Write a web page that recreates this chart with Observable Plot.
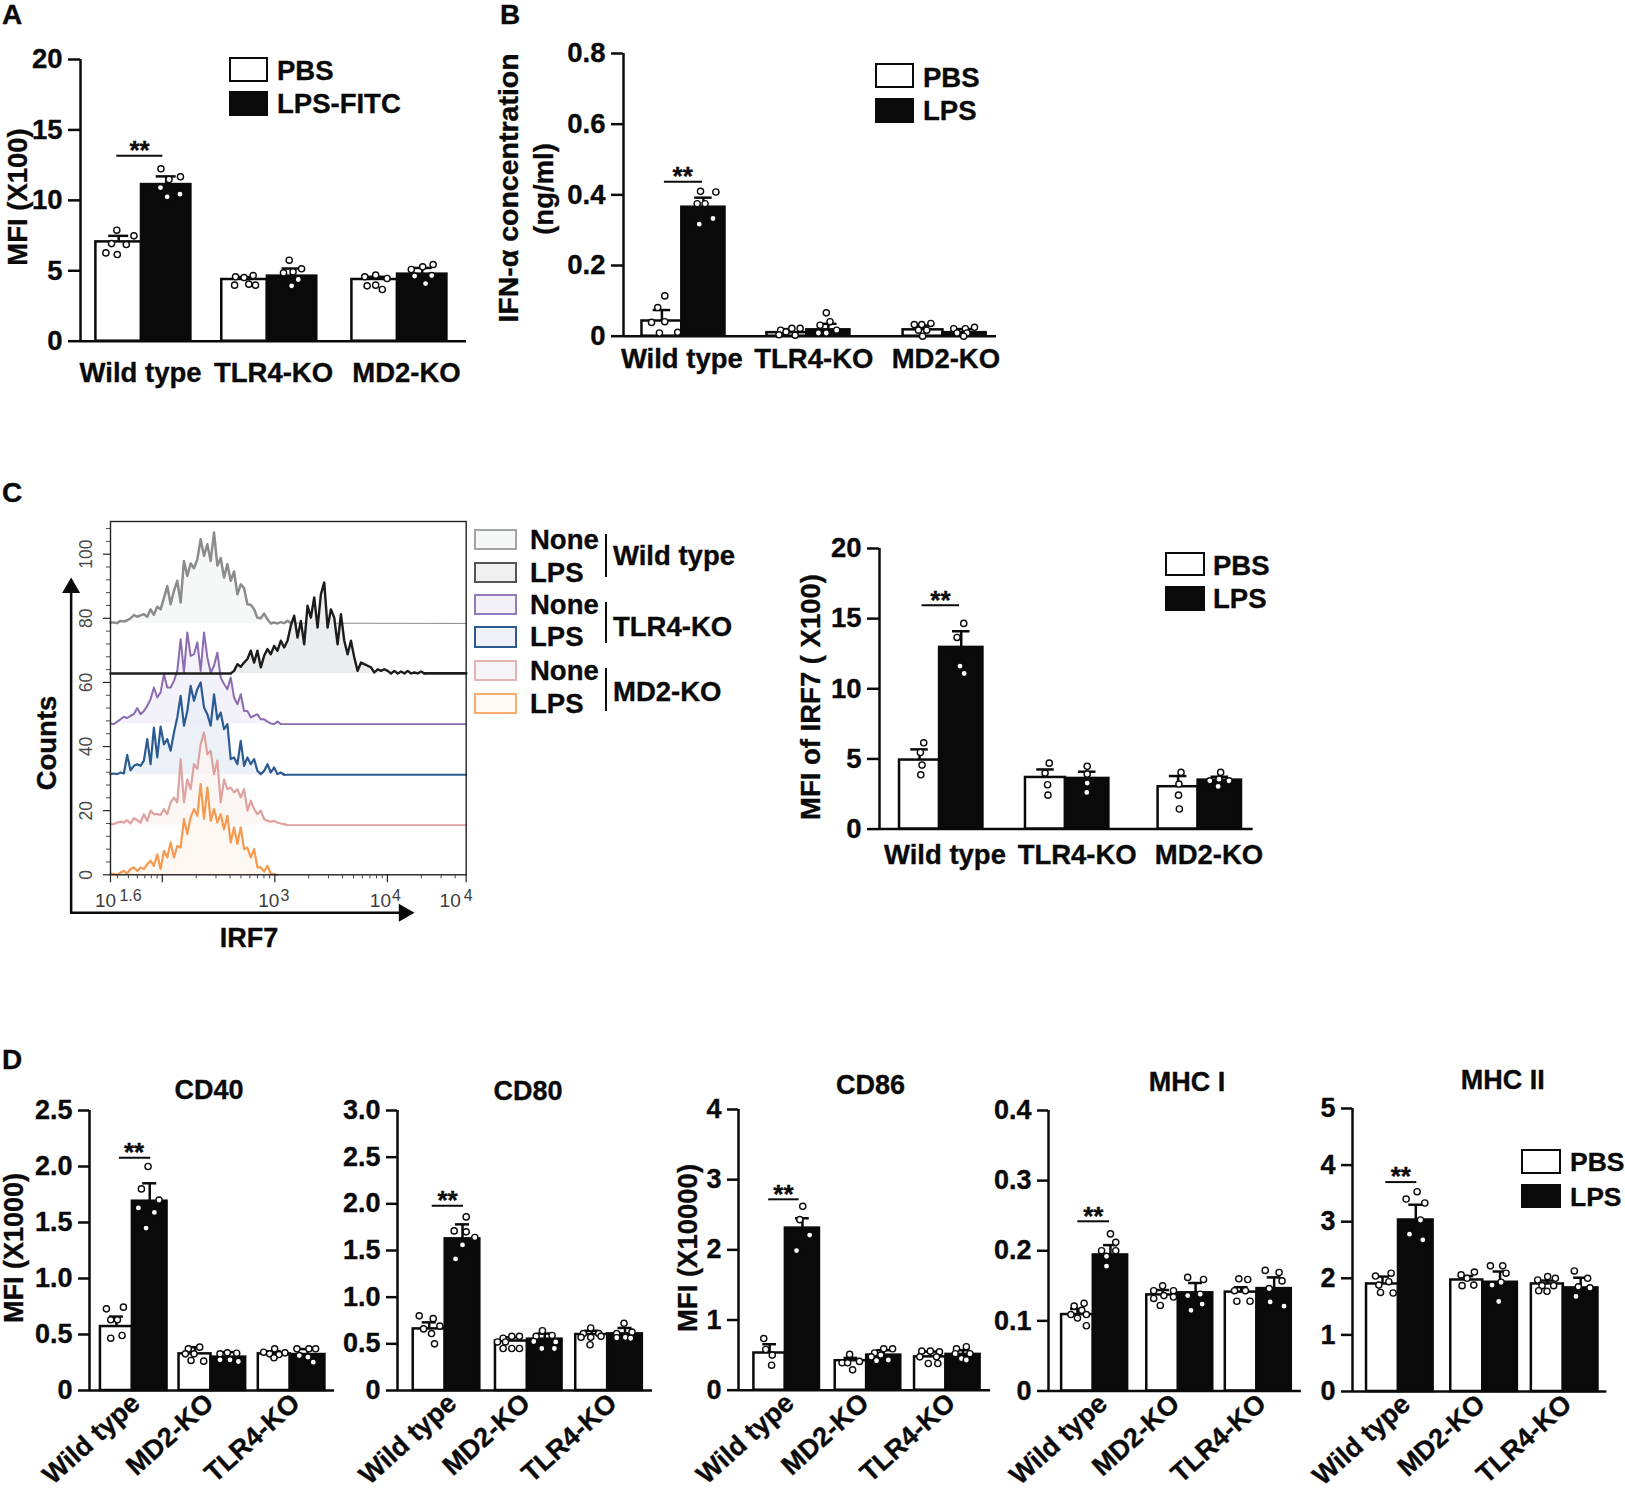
<!DOCTYPE html>
<html>
<head>
<meta charset="utf-8">
<script src="https://cdn.jsdelivr.net/npm/d3@7"></script>
<script src="https://cdn.jsdelivr.net/npm/@observablehq/plot@0.6"></script>
<style>
  body { margin: 0; background: white; }
  #fig { position: relative; width: 1625px; height: 1489px; overflow: hidden; font-family: "Liberation Sans", Arial, sans-serif; color: #0a0a0a; }
  #fig svg { position: absolute; overflow: visible; }
  #fig svg [font-weight="bold"] { stroke: #0a0a0a; stroke-width: .35px; }
  #fig .t { position: absolute; white-space: nowrap; line-height: 1; font-weight: bold; -webkit-text-stroke: .35px #0a0a0a; }
  #fig .s { position: absolute; box-sizing: border-box; }
</style>
</head>
<body>
<div id="fig"></div>
<script>
const groupsABC = ["Wild type", "TLR4-KO", "MD2-KO"]
const groupsD = ["Wild type", "MD2-KO", "TLR4-KO"]

// panel A, MFI (X100)
const aPbs = [7.05, 4.38, 4.38]
const aLps = [11.12, 4.62, 4.76]
const aPbsErr = [7.48, 4.55, 4.57]
const aLpsErr = [11.7, 5.16, 5.2]
const aDots = [
  [7.88, 7.48, 6.93, 6.86, 6.27, 6.15],
  [12.24, 11.67, 11.48, 10.91, 10.25, 10.44],
  [4.57, 4.52, 4.66, 3.98, 4.05, 3.98],
  [5.75, 5.14, 4.85, 4.92, 4.38, 3.93],
  [4.57, 4.69, 4.45, 3.93, 3.98, 3.67],
  [5.44, 5.09, 5.28, 4.62, 4.66, 4.09]
]
const aJitter = [
  [-.04, .32, -.15, .16, -.27, -.03],
  [-.11, .3, .06, -.12, .02, .29],
  [-.19, -.01, .18, -.21, .09, .23],
  [-.06, .2, -.18, .02, .13, -.01],
  [-.21, .02, .26, -.16, .02, .16],
  [.23, -.23, .01, -.16, .2, .07]
]

// panel B, IFN-alpha ng/ml
const bPbs = [.043, .01, .018]
const bLps = [.365, .018, .01]
const bPbsErr = [.074, .02, .03]
const bLpsErr = [.392, .035, .02]
const bDots = [
  [.114, .081, .039, .041, .009, .011],
  [.41, .408, .375, .375, .333, .317],
  [.017, .022, .022, .004, .012, .003],
  [.066, .041, .031, .017, .009, .009],
  [.033, .033, .036, .017, .017, 0],
  [.021, .021, .025, .009, .009, 0]
]
const bJitter = [
  [.07, -.1, -.25, .07, -.06, .38],
  [-.07, .3, -.15, .04, .23, -.1],
  [-.15, .12, .32, -.19, -.02, .2],
  [-.05, .04, -.2, .2, -.24, -.05],
  [-.21, -.03, .19, -.11, .09, -.01],
  [-.26, .02, .24, -.18, .06, -.02]
]

// panel C right, MFI of IRF7
const cPbs = [4.92, 3.68, 3.02]
const cLps = [12.95, 3.61, 3.49]
const cPbsErr = [5.68, 4.25, 3.78]
const cLpsErr = [14.1, 4.09, 3.73]
const cDots = [
  [6.15, 5.46, 4.56, 3.87],
  [14.66, 13.66, 11.62, 11.09],
  [4.7, 3.99, 3.16, 2.42],
  [4.47, 3.92, 3.28, 2.61],
  [4.04, 3.21, 2.42, 1.43],
  [4.04, 3.44, 3.56, 3.44, 3.04]
]
const cJitter = [
  [.1, .02, .06, .03],
  [.06, -.1, -.03, .07],
  [.09, -.01, .05, .06],
  [0, 0, 0, -.01],
  [.07, .02, .01, .03],
  [.02, -.24, -.02, .22, -.04]
]

// panel D
const cd40Pbs = [.571, .327, .327]
const cd40Lps = [1.69, .298, .321]
const cd40PbsErr = [.66, .387, .35]
const cd40LpsErr = [1.85, .342, .37]
const cd40Dots = [
  [.729, .744, .631, .631, .467, .491],
  [2.0, 1.8, 1.7, 1.63, 1.59, 1.45],
  [.372, .387, .327, .327, .268, .262],
  [.327, .336, .333, .274, .274, .259],
  [.342, .372, .336, .327, .321, .292],
  [.372, .372, .372, .312, .298, .253]
]
const cd40Jitter = [
  [-.3, .21, -.17, .03, -.17, .17],
  [-.05, -.25, .28, -.34, .14, -.11],
  [-.2, .14, -.29, -.03, -.12, .26],
  [-.25, -.03, .25, -.25, .05, .3],
  [-.32, .01, .32, -.14, .14, -.01],
  [-.32, .04, .24, -.25, .01, .17]
]

const cd80Pbs = [.66, .53, .6]
const cd80Lps = [1.625, .55, .607]
const cd80PbsErr = [.73, .57, .64]
const cd80LpsErr = [1.78, .61, .67]
const cd80Dots = [
  [.8, .77, .66, .69, .61, .5],
  [1.86, 1.71, 1.7, 1.64, 1.56, 1.41],
  [.56, .58, .58, .52, .52, .45, .45, .45],
  [.64, .58, .59, .525, .52, .45, .45],
  [.67, .61, .61, .57, .57, .58, .49],
  [.72, .61, .625, .565, .57, .56]
]
const cd80Jitter = [
  [-.3, .12, -.17, .32, .07, .16],
  [.11, -.25, .11, .37, 0, -.21],
  [-.25, .01, .24, -.42, -.18, .01, -.25, .24],
  [-.07, -.26, .22, -.33, .33, -.09, .29],
  [-.03, -.25, .21, -.32, -.03, .28, -.05],
  [-.03, -.25, .21, -.25, .01, .17]
]

const cd86Pbs = [.53, .42, .475]
const cd86Lps = [2.31, .5, .51]
const cd86PbsErr = [.655, .46, .55]
const cd86LpsErr = [2.45, .57, .57]
const cd86Dots = [
  [.736, .58, .5, .356],
  [2.62, 2.43, 2.21, 1.99],
  [.51, .39, .41, .39, .29],
  [.59, .53, .59, .475, .5, .42, .43],
  [.556, .556, .546, .475, .475, .38, .38],
  [.59, .62, .52, .52, .45, .43]
]
const cd86Jitter = [
  [-.18, -.12, .08, .06],
  [.01, -.08, .22, -.18],
  [-.04, -.27, .26, -.1, .05],
  [0, -.28, .27, -.38, -.09, -.22, .14],
  [-.26, 0, .28, -.32, .19, -.06, .23],
  [-.2, .1, -.24, .21, -.05, .1]
]

const mhc1Pbs = [.109, .137, .141]
const mhc1Lps = [.194, .14, .146]
const mhc1PbsErr = [.117, .144, .148]
const mhc1LpsErr = [.208, .154, .162]
const mhc1Dots = [
  [.125, .121, .115, .109, .109, .104, .093],
  [.224, .212, .2, .2, .192, .178],
  [.15, .143, .143, .136, .132, .134, .122],
  [.162, .159, .136, .138, .124, .115],
  [.16, .159, .143, .143, .128, .128],
  [.172, .169, .146, .157, .127, .121]
]
const mhc1Jitter = [
  [.2, -.1, .13, -.2, .27, 0, .27],
  [0, .16, -.27, .16, -.12, -.12],
  [0, -.27, .33, .04, -.27, .33, -.07],
  [-.24, .24, -.24, .14, .2, -.14],
  [-.07, .2, -.2, .13, -.13, .27],
  [-.27, .15, -.15, .24, -.12, .3]
]

const mhc2Pbs = [1.9, 1.97, 1.9]
const mhc2Lps = [3.03, 1.93, 1.83]
const mhc2PbsErr = [2.03, 2.04, 1.96]
const mhc2LpsErr = [3.3, 2.12, 2.01]
const mhc2Dots = [
  [2.04, 2.09, 1.94, 1.88, 1.75, 1.74],
  [3.53, 3.4, 3.33, 3.03, 2.78, 2.68],
  [2.11, 2.06, 2.0, 1.87, 1.88],
  [2.22, 2.22, 2.09, 1.88, 1.93, 1.59],
  [2.03, 2.0, 1.97, 1.87, 1.87, 1.78, 1.77],
  [2.13, 2.0, 1.85, 1.83, 1.68]
]
const mhc2Jitter = [
  [-.21, .26, .19, -.11, -.06, .32],
  [.04, -.29, .27, .14, -.19, .21],
  [.23, -.17, .01, -.14, .21],
  [-.29, .08, .18, -.24, .03, -.04],
  [.01, .24, -.29, -.16, .19, -.26, -.01],
  [-.19, .21, -.07, .28, -.14]
]

// panel C histogram, counts read per bin (offset overlay)
const histFrom = 1.54, histStep = 0.02967
const histGrey = [78.7,78.7,78.5,79.2,79.0,79.4,80.0,81.0,80.5,80.9,81.3,80.5,82.8,81.1,83.6,82.8,86.3,90.1,84.4,88.6,91.7,84.9,97.9,93.2,97.1,95.6,98.4,104.7,99.5,103.1,97.9,106.8,96.4,98.8,92.7,96.9,91.7,94.6,87.5,90.6,89.4,84.4,84.2,82.8,80.2,80.0,81.5,79.7,78.4,78.7,78.4,78.8,78.5,79.2,78.5]
const histBlack = [63.6,65.7,64.9,66.2,67.3,69.9,66.2,69.9,64.7,68.3,70.4,68.8,71.4,69.9,73.0,70.9,73.0,77.7,80.8,74.0,79.2,71.9,83.9,80.2,86.5,77.1,87.5,91.2,77.1,82.8,80.2,71.9,81.3,73.0,68.8,73.0,67.8,63.6,66.2,65.7,65.2,64.7,63.1,64.1,63.6,64.1,63.6,62.8,63.6,62.8,63.4,62.8,63.6,62.8,63.1,62.8,63.4,62.8]
const histPurple = [47.2,47.0,47.8,48.5,49.3,48.9,49.6,50.1,52.0,50.1,51.1,52.7,54.8,58.4,55.3,56.9,62.6,58.4,58.4,60.5,63.6,73.5,63.1,75.6,68.3,68.8,72.5,63.6,75.6,67.8,63.1,65.2,69.3,61.5,59.5,57.9,61.5,55.3,53.2,56.3,51.1,51.1,49.1,49.6,50.1,48.5,48.5,47.8,47.2,47.0,47.8,47.0]
const histBlue = [31.4,31.6,31.4,31.9,31.6,37.4,32.6,34.0,34.5,34.0,35.6,42.3,34.5,45.9,36.6,46.2,40.7,42.3,38.7,44.4,49.1,55.8,46.5,51.1,58.9,54.3,57.9,60.0,52.2,50.1,46.5,56.3,48.5,50.6,45.4,47.0,36.1,36.6,34.5,41.8,34.0,36.6,34.5,36.1,32.4,31.4,32.4,34.5,31.9,33.5,31.4,31.9,31.2]
const histPink = [15.8,15.8,16.3,16.6,16.3,17.0,16.0,17.7,17.0,16.3,18.9,16.8,20.0,18.9,18.9,18.7,20.5,18.9,22.6,24.1,22.6,36.1,22.6,29.8,26.7,34.5,33.0,40.7,44.4,37.6,38.7,31.4,35.6,22.6,29.8,26.7,27.2,25.7,26.7,24.1,26.7,20.0,23.1,20.5,18.9,20.0,17.4,16.8,16.6,16.8,16.3,16.0,15.8,15.5]
const histOrange = [0.4,0.2,0,0.7,1.2,0.4,1.8,2.3,1.2,2.3,1.8,3.3,4.4,2.8,6.4,1.8,7.5,5.4,10.1,5.4,9.0,8.5,17.4,12.7,17.9,20.5,18.4,28.3,17.4,27.3,16.8,20.5,16.3,18.9,14.2,18.4,10.1,14.8,9.6,14.8,8.0,8.5,5.4,8.0,2.3,2.3,1.0,2.8,0.4,0.2,0]
const histYTicks = [0, 20, 40, 60, 80, 100]
const histYMinor = [4,8,12,16,24,28,32,36,44,48,52,56,64,68,72,76,84,88,92,96,104,108]
const histXMajor = [10 ** 1.54, 100, 1000, 10000, 10 ** 4.7]
const histXMinor = [40,50,60,70,80,90,200,300,400,500,600,700,800,900,2000,3000,4000,5000,6000,7000,8000,9000,20000,30000,40000]
const legendC = ["None", "LPS", "None", "LPS", "None", "LPS"]
const legendCGroups = ["Wild type", "TLR4-KO", "MD2-KO"]

const fig = document.getElementById("fig")

function put(text, x, cy, size = 27.5, center = false) {
  const el = document.createElement("div")
  el.className = "t"
  el.textContent = text
  el.style.left = x + "px"
  el.style.top = (cy - .49 * size) + "px"
  el.style.fontSize = size + "px"
  if (center) el.style.transform = "translateX(-50%)"
  fig.append(el)
}

function putY(text, baseX, cy, size = 27.5) {
  const el = document.createElement("div")
  el.className = "t"
  el.textContent = text
  el.style.left = baseX + "px"
  el.style.top = cy + "px"
  el.style.fontSize = size + "px"
  el.style.transformOrigin = "0 0"
  el.style.transform = "rotate(-90deg) translate(-50%, -.85em)"
  fig.append(el)
}

function box(x0, y0, x1, y1, border, fill, bw = 2.5) {
  const el = document.createElement("div")
  el.className = "s"
  el.style.cssText += `left:${x0}px;top:${y0}px;width:${x1 - x0}px;height:${y1 - y0}px;border:${bw}px solid ${border};background:${fill}`
  fig.append(el)
}

function legendPair(x0, x1, y0, y1, y2, y3, textX, c1, c2, names, size = 27.5) {
  box(x0, y0, x1, y1, "#0a0a0a", "white")
  box(x0, y2, x1, y3, "#0a0a0a", "#0a0a0a")
  put(names[0], textX, c1, size)
  put(names[1], textX, c2, size)
}

function barPanel(o) {
  const rows = []
  o.groups.forEach((g, i) => {
    rows.push({x1: o.at[i] - .96, x2: o.at[i], c: o.at[i] - .48, v: o.pbs[i], err: o.pbsErr[i], dots: o.dots[i * 2], jit: o.jitter[i * 2], fill: "white"})
    rows.push({x1: o.at[i], x2: o.at[i] + 1.04, c: o.at[i] + .52, v: o.lps[i], err: o.lpsErr[i], dots: o.dots[i * 2 + 1], jit: o.jitter[i * 2 + 1], fill: "#0a0a0a"})
  })
  const dots = rows.flatMap(r => r.dots.map((v, j) => ({x: r.c + r.jit[j], y: v})))
  const labels = o.groups.map((g, i) => ({g, x: o.at[i] + o.labelShift[i]}))
  const marginLeft = 70, marginTop = 15
  const plot = Plot.plot({
    width: o.axisEnd - o.axisX + marginLeft,
    height: o.zero - o.top + marginTop + 50,
    marginLeft, marginTop, marginRight: 0, marginBottom: 50,
    style: {fontFamily: "Liberation Sans", background: "transparent", color: "#0a0a0a"},
    x: {domain: o.xDomain, axis: null},
    y: {domain: [0, o.ticks[o.ticks.length - 1]], axis: null},
    marks: [
      Plot.rectY(rows, {x1: "x1", x2: "x2", y: "v", fill: "fill", stroke: "#0a0a0a", strokeWidth: 2.5}),
      Plot.ruleX([o.xDomain[0]], {y1: 0, y2: o.ticks[o.ticks.length - 1], strokeWidth: 2.5, stroke: "#0a0a0a"}),
      Plot.axisY({
        ticks: o.ticks, tickSize: o.tick, tickPadding: 6, fontSize: o.font, fontWeight: "bold", strokeWidth: 2.5,
        label: null, tickFormat: d => o.tickLabels[o.ticks.indexOf(d)]
      }),
      Plot.ruleY([0], {strokeWidth: 2.5, stroke: "#0a0a0a"}),
      Plot.ruleX(rows, {x: "c", y1: "v", y2: "err", strokeWidth: 2.5, stroke: "#0a0a0a"}),
      Plot.ruleY(rows, {y: "err", x1: d => d.c - .21, x2: d => d.c + .21, strokeWidth: 2.5, stroke: "#0a0a0a"}),
      Plot.dot(dots, {x: "x", y: "y", r: 3.1, fill: "white", stroke: "#0a0a0a", strokeWidth: 1.4}),
      Plot.ruleY([o.sig.y], {x1: o.at[0] + o.sig.x1, x2: o.at[0] + o.sig.x2, strokeWidth: 2, stroke: "#0a0a0a"}),
      Plot.text(["**"], {x: o.at[0] + o.sig.star, y: o.sig.y, fontSize: 26, dy: -5, lineAnchor: "middle", fill: "#0a0a0a", fontWeight: "bold"}),
      o.rotateLabels
        ? Plot.text(labels, {x: "x", y: 0, text: "g", rotate: -42, textAnchor: "end", lineAnchor: "bottom", dy: o.labelDy, fontSize: o.labelFont, fontWeight: "bold", fill: "#0a0a0a"})
        : Plot.text(labels, {x: "x", y: 0, text: "g", lineAnchor: "bottom", dy: o.labelDy, fontSize: o.labelFont, fontWeight: "bold", fill: "#0a0a0a"})
    ]
  })
  plot.style.left = (o.axisX - marginLeft) + "px"
  plot.style.top = (o.top - marginTop) + "px"
  fig.append(plot)
}

// histogram
function histSeries(values, start, baseline, color, width, fill, tailWidth) {
  const x = i => 10 ** (histFrom + i * histStep)
  let rows = values.map((v, i) => ({x: x(start + i), y: v}))
  if (start > 0) rows = [{x: 10 ** histFrom, y: baseline}, {x: x(start - 1), y: baseline}, ...rows]
  const out = [
    Plot.areaY(rows, {x: "x", y1: () => baseline, y2: "y", fill, fillOpacity: .85}),
    Plot.line(rows, {x: "x", y: "y", stroke: color, strokeWidth: width})
  ]
  if (tailWidth) out.push(Plot.line([rows[rows.length - 1], {x: 10 ** 4.7, y: baseline}], {x: "x", y: "y", stroke: color, strokeWidth: tailWidth}))
  return out
}

function histPanel() {
  const marginLeft = 90, marginTop = 20
  const textCol = "#3d3d3d"
  const xLabels = [[10 ** 1.54, "1.6", -5, 20], [1000, "3", -6, 10], [10000, "4", -7, 9], [10 ** 4.7, "4", -16, 2]]
  const plot = Plot.plot({
    width: 465.7 - 110 + marginLeft,
    height: 353.3 + marginTop + 90,
    marginLeft, marginTop, marginRight: 0, marginBottom: 90,
    style: {fontFamily: "Liberation Sans", background: "transparent"},
    x: {type: "log", domain: [10 ** 1.54, 10 ** 4.7], axis: null},
    y: {domain: [0, 110.2], axis: null},
    marks: [
      ...histSeries(histGrey, 0, 78.4, "#8c8c8c", 2.5, "#f5f7f6", 1),
      ...histSeries(histPurple, 0, 47, "#8c6bb1", 2, "#f1eff8", 1.8),
      ...histSeries(histBlack, 37, 62.8, "#1c1c1c", 2.4, "#e9eaeb", 2.8),
      ...histSeries(histBlue, 0, 31.2, "#2b5b92", 2.2, "#e9eff7", 2),
      ...histSeries(histPink, 0, 15.5, "#dea3a0", 2.2, "#fbf4f2", 1.8),
      ...histSeries(histOrange, 0, 0, "#f59a50", 2.2, "#fef7f0", 0),
      Plot.frame({stroke: "#222", strokeWidth: 1.4}),
      Plot.axisY({ticks: histYTicks, tickSize: 7, tickFormat: () => "", label: null, strokeWidth: 1.2, stroke: "#222"}),
      Plot.axisY({ticks: histYMinor, tickSize: 4, tickFormat: () => "", label: null, strokeWidth: 1, stroke: "#444"}),
      Plot.axisX({ticks: histXMajor, tickSize: 8, tickFormat: () => "", label: null, strokeWidth: 1.2, stroke: "#222"}),
      Plot.axisX({ticks: histXMinor, tickSize: 4, tickFormat: () => "", label: null, strokeWidth: 1, stroke: "#444"}),
      Plot.text(histYTicks, {x: 10 ** 1.54, y: d => d, text: d => String(d), rotate: -90, dx: -24, fontSize: 17.5, fill: "#4a4a4a", lineAnchor: "middle"}),
      ...xLabels.flatMap(([v, exp, dx, dxe]) => [
        Plot.text(["10"], {x: v, y: 0, dx, dy: 26, fontSize: 19, fill: textCol, lineAnchor: "middle"}),
        Plot.text([exp], {x: v, y: 0, dx: dxe, dy: 21, fontSize: 16, fill: textCol, lineAnchor: "middle"})
      ]),
      // big axis arrows drawn outside the frame
      Plot.line([[15.5, -11.85], [15.5, 89.5]], {x: d => d[0], y: d => d[1], stroke: "#0a0a0a", strokeWidth: 2.5}),
      Plot.line([[15.5, -11.85], [14060, -11.85]], {x: d => d[0], y: d => d[1], stroke: "#0a0a0a", strokeWidth: 2.5}),
      Plot.dot([[15.5, 89.5]], {x: d => d[0], y: d => d[1], symbol: "triangle", r: 6.7, fill: "#0a0a0a", stroke: "none"}),
      Plot.dot([[14060, -11.85]], {x: d => d[0], y: d => d[1], symbol: "triangle", r: 6.7, rotate: 90, fill: "#0a0a0a", stroke: "none"})
    ]
  })
  plot.style.left = (110 - marginLeft) + "px"
  plot.style.top = (520.7 - marginTop) + "px"
  fig.append(plot)
}

// top row and IRF7 bars
barPanel({
  groups: groupsABC, pbs: aPbs, lps: aLps, pbsErr: aPbsErr, lpsErr: aLpsErr, dots: aDots, jitter: aJitter,
  axisX: 80, axisEnd: 466, top: 59.3, zero: 341, tick: 12, font: 27.5, labelFont: 27.5, labelDy: 41,
  xDomain: [-1.284, 6.842], at: [0, 2.65, 5.39], labelShift: [-.02, .13, .19],
  ticks: [0, 5, 10, 15, 20], tickLabels: ["0", "5", "10", "15", "20"],
  sig: {y: 13.16, x1: -.52, x2: .45, star: -.04}
})
barPanel({
  groups: groupsABC, pbs: bPbs, lps: bLps, pbsErr: bPbsErr, lpsErr: bLpsErr, dots: bDots, jitter: bJitter,
  axisX: 622.7, axisEnd: 995.7, top: 53.3, zero: 336, tick: 12, font: 27.5, labelFont: 27.5, labelDy: 32,
  xDomain: [-1.405, 7.58], at: [0, 3.01, 6.29], labelShift: [0, .17, .07],
  ticks: [0, .2, .4, .6, .8], tickLabels: ["0", "0.2", "0.4", "0.6", "0.8"],
  sig: {y: .437, x1: -.42, x2: .5, star: .02}
})
histPanel()
barPanel({
  groups: groupsABC, pbs: cPbs, lps: cLps, pbsErr: cPbsErr, lpsErr: cLpsErr, dots: cDots, jitter: cJitter,
  axisX: 879, axisEnd: 1252.7, top: 547.7, zero: 828.3, tick: 12, font: 27.5, labelFont: 27.5, labelDy: 35,
  xDomain: [-1.44, 7.52], at: [0, 3.02, 6.2], labelShift: [.13, .28, .26],
  ticks: [0, 5, 10, 15, 20], tickLabels: ["0", "5", "10", "15", "20"],
  sig: {y: 15.96, x1: -.42, x2: .48, star: .02}
})

// row D
barPanel({
  groups: groupsD, pbs: cd40Pbs, lps: cd40Lps, pbsErr: cd40PbsErr, lpsErr: cd40LpsErr, dots: cd40Dots, jitter: cd40Jitter,
  axisX: 88.9, axisEnd: 334, top: 1110, zero: 1390, tick: 11, font: 27, labelFont: 27, labelDy: 15, rotateLabels: true,
  xDomain: [-1.288, 6.07], at: [0, 2.36, 4.74], labelShift: [.28, .13, .34],
  ticks: [0, .5, 1, 1.5, 2, 2.5], tickLabels: ["0", "0.5", "1.0", "1.5", "2.0", "2.5"],
  sig: {y: 2.077, x1: -.39, x2: .55, star: .05}
})
barPanel({
  groups: groupsD, pbs: cd80Pbs, lps: cd80Lps, pbsErr: cd80PbsErr, lpsErr: cd80LpsErr, dots: cd80Dots, jitter: cd80Jitter,
  axisX: 396.8, axisEnd: 651.8, top: 1110, zero: 1390, tick: 11, font: 27, labelFont: 27, labelDy: 15, rotateLabels: true,
  xDomain: [-1.432, 6.225], at: [0, 2.47, 4.88], labelShift: [.39, .13, .33],
  ticks: [0, .5, 1, 1.5, 2, 2.5, 3], tickLabels: ["0", "0.5", "1.0", "1.5", "2.0", "2.5", "3.0"],
  sig: {y: 1.98, x1: -.39, x2: .55, star: .07}
})
barPanel({
  groups: groupsD, pbs: cd86Pbs, lps: cd86Lps, pbsErr: cd86PbsErr, lpsErr: cd86LpsErr, dots: cd86Dots, jitter: cd86Jitter,
  axisX: 737.5, axisEnd: 989.6, top: 1109.3, zero: 1390, tick: 11, font: 27, labelFont: 27, labelDy: 15, rotateLabels: true,
  xDomain: [-1.43, 6.26], at: [0, 2.48, 4.9], labelShift: [.31, .12, .34],
  ticks: [0, 1, 2, 3, 4], tickLabels: ["0", "1", "2", "3", "4"],
  sig: {y: 2.72, x1: -.51, x2: .42, star: -.06}
})
barPanel({
  groups: groupsD, pbs: mhc1Pbs, lps: mhc1Lps, pbsErr: mhc1PbsErr, lpsErr: mhc1LpsErr, dots: mhc1Dots, jitter: mhc1Jitter,
  axisX: 1047.6, axisEnd: 1300.5, top: 1110, zero: 1390.5, tick: 11, font: 27, labelFont: 27, labelDy: 15, rotateLabels: true,
  xDomain: [-1.358, 6.306], at: [0, 2.58, 4.96], labelShift: [.47, .09, .33],
  ticks: [0, .1, .2, .3, .4], tickLabels: ["0", "0.1", "0.2", "0.3", "0.4"],
  sig: {y: .242, x1: -.47, x2: .49, star: 0}
})
barPanel({
  groups: groupsD, pbs: mhc2Pbs, lps: mhc2Lps, pbsErr: mhc2PbsErr, lpsErr: mhc2LpsErr, dots: mhc2Dots, jitter: mhc2Jitter,
  axisX: 1352.3, axisEnd: 1606.7, top: 1107.7, zero: 1390.7, tick: 11, font: 27, labelFont: 27, labelDy: 15, rotateLabels: true,
  xDomain: [-1.381, 6.258], at: [0, 2.53, 4.95], labelShift: [.4, .12, .3],
  ticks: [0, 1, 2, 3, 4, 5], tickLabels: ["0", "1", "2", "3", "4", "5"],
  sig: {y: 3.7, x1: -.38, x2: .55, star: .07}
})

// panel letters
put("A", 2, 15, 28)
put("B", 500, 15, 28)
put("C", 2, 493, 28)
put("D", 2, 1060, 28)

// axis titles
putY("MFI (X100)", 27, 197)
putY("IFN-α concentration", 518, 188, 28.5)
putY("(ng/ml)", 553, 189)
putY("Counts", 56, 743)
put("IRF7", 249, 938, 27, true)
putY("MFI of IRF7 ( X100)", 820, 696.7, 27.5)
putY("MFI (X1000)", 24, 1247.5, 27)
putY("MFI (X10000)", 697, 1248)

// D titles
put("CD40", 209, 1090.7, 27, true)
put("CD80", 528, 1091.7, 27, true)
put("CD86", 870.6, 1085, 27, true)
put("MHC I", 1187, 1082, 27, true)
put("MHC II", 1502.7, 1080.7, 27, true)

// legends
legendPair(229, 268, 57, 82, 91, 116, 277, 70, 103, ["PBS", "LPS-FITC"])
legendPair(874.7, 914, 63, 88, 98, 123, 923, 77, 110.7, ["PBS", "LPS"])
legendPair(1165, 1205, 551.7, 576, 585.7, 611, 1213, 565, 598, ["PBS", "LPS"])
legendPair(1521, 1560.7, 1149, 1174, 1184, 1208, 1570, 1161.7, 1196.7, ["PBS", "LPS"], 26.5)

// histogram legend
const swatchY = [[529, 550], [561.7, 582.7], [594, 615], [626, 647.7], [660, 681], [692.7, 713.7]]
const swatchCol = [["#a3a3a3", "#f6f7f7"], ["#555555", "#f0f0f1"], ["#957bbd", "#f3f2fa"], ["#2b5b92", "#eff3f9"], ["#e5b3b3", "#f5f4f7"], ["#f9ad6c", "#fff9f4"]]
swatchY.forEach((s, i) => {
  box(474, s[0], 516.7, s[1], swatchCol[i][0], swatchCol[i][1], 2.4)
  put(legendC[i], 530, (s[0] + s[1]) / 2)
})
legendCGroups.forEach((g, i) => {
  const el = document.createElement("div")
  el.className = "s"
  el.style.cssText += `left:604.7px;top:${[534, 601.7, 668][i]}px;width:2.4px;height:${[42.7, 41.3, 43][i]}px;background:#0a0a0a`
  fig.append(el)
  put(g, 613, [555, 626.7, 691.7][i])
})
</script>
</body>
</html>
